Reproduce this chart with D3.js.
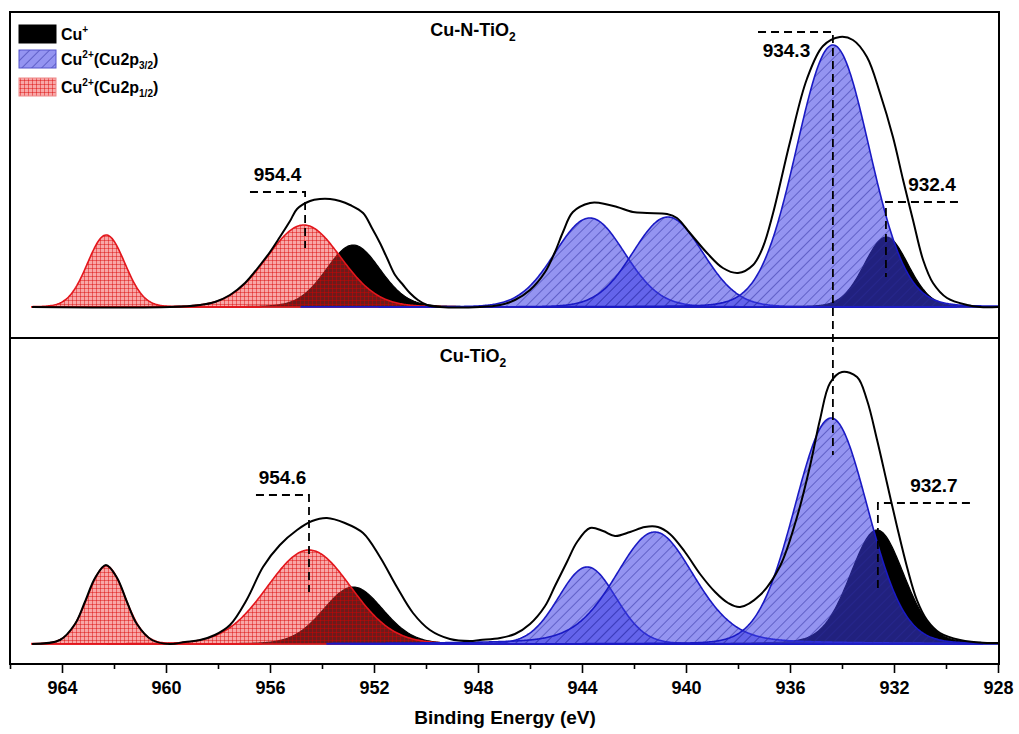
<!DOCTYPE html>
<html>
<head>
<meta charset="utf-8">
<script src="https://cdn.jsdelivr.net/npm/d3@7"></script>
<style>
  body { margin: 0; background: #fff; }
  svg { display: block; font-family: "Liberation Sans", Arial, sans-serif; font-weight: bold; }
</style>
</head>
<body>
<svg id="chart" width="1019" height="734"></svg>
<script>
'use strict';

/* global d3 */

// x axis (binding energy, eV)
var energyDomain = [966, 928];
var majorTicks = [964, 960, 956, 952, 948, 944, 940, 936, 932, 928];
var minorTicks = [966, 962, 958, 954, 950, 946, 942, 938, 934, 930];

// fitted components: [centre eV, height a.u., FWHM eV, lorentzian fraction]
var nCu1 = [[952.8, 62, 2.45, 0.1], [932.3, 70, 2.0, 0.1]];
var nCu2p32 = [[943.7, 89, 3.17, 0.05], [940.7, 90, 3.17, 0.05], [934.35, 262, 3.3, 0.05]];
var nCu2p12 = [[962.3, 72, 1.7, 0.05], [954.7, 82, 3.35, 0.05]];

var cCu1 = [[952.8, 57, 2.7, 0.1], [932.65, 114, 2.45, 0.15]];
var cCu2p32 = [[943.8, 77, 2.6, 0.05], [941.2, 112, 3.6, 0.25], [934.42, 226, 3.3, 0.05]];
var cCu2p12 = [[962.3, 78, 1.7, 0.05], [954.5, 94, 3.8, 0.05]];

// measured envelopes: [eV, a.u.]
var nEnvelope = [
  [965.15, 0], [959.85, 0], [958.69, 2], [958.12, 5], [957.54, 12], [956.96, 24],
  [956.38, 42], [956.0, 55], [955.62, 70], [955.23, 86], [954.96, 98], [954.46, 106],
  [954.08, 108], [953.69, 108], [953.31, 106], [952.92, 102], [952.42, 94], [952.08, 79],
  [951.77, 64], [951.5, 49], [951.19, 32], [950.88, 22], [950.62, 14], [950.31, 7],
  [949.96, 2], [949.46, 0], [947.92, 0], [947.15, 2], [946.58, 7], [946.0, 17],
  [945.42, 35], [945.04, 55], [944.73, 75], [944.35, 95], [943.69, 104], [943.31, 104],
  [942.65, 100], [942.04, 95], [941.5, 94], [940.73, 93], [940.35, 89], [939.85, 74],
  [939.19, 54], [938.58, 39], [938.0, 34], [937.42, 42], [937.04, 60], [936.65, 94],
  [936.0, 165], [935.35, 228], [934.73, 261], [934.08, 270], [933.58, 267], [933.04, 250],
  [932.54, 214], [932.04, 170], [931.65, 127], [931.27, 87], [930.88, 47], [930.5, 24],
  [929.96, 9], [929.19, 2], [928.69, 0], [928.0, 0]
];
var cEnvelope = [
  [965.15, 0], [964.08, 4], [963.5, 20], [963.12, 42], [962.73, 66], [962.31, 79],
  [961.88, 66], [961.5, 42], [961.12, 20], [960.54, 4], [959.85, 0], [959.27, 2],
  [958.69, 4], [958.12, 9], [957.54, 19], [956.88, 45], [956.27, 77], [955.62, 99],
  [954.96, 114], [954.38, 123], [953.81, 126], [953.12, 121], [952.42, 111], [951.77, 87],
  [951.12, 57], [950.5, 31], [949.85, 14], [949.08, 5], [948.31, 3], [947.92, 4],
  [947.15, 6], [946.58, 10], [946.0, 20], [945.42, 38], [945.04, 58], [944.58, 82],
  [944.19, 102], [943.69, 116], [943.19, 113], [942.73, 108], [942.15, 112], [941.58, 117],
  [941.08, 117], [940.62, 110], [940.04, 92], [939.46, 70], [938.88, 52], [938.38, 41],
  [937.92, 37], [937.15, 49], [936.38, 78], [935.73, 127], [935.23, 178], [934.85, 224],
  [934.46, 261], [934.0, 272], [933.42, 267], [933.04, 244], [932.65, 204], [932.27, 161],
  [931.88, 117], [931.5, 77], [931.12, 44], [930.73, 24], [930.23, 11], [929.46, 4],
  [928.42, 1], [928.0, 1]
];

// peak labels: [text, peak eV, arm end eV, corner a.u., drop end a.u.]
var nLabels = [['954.4', 954.65, 956.77, 115, 59], ['932.4', 932.31, 929.54, 105, 30]];
var cLabels = [['954.6', 954.5, 956.54, 149, 52], ['932.7', 932.62, 929.08, 141, 51]];
// the 934.3 marker runs through both panels: [text, eV, arm end eV, top a.u., bottom-panel a.u.]
var sharedLabel = ['934.3', 934.35, 937.23, 275, 189];

var svg = d3.select('#chart');
var frame = {left: 10, right: 999, top: 12, bottom: 664, split: 338};

var x = d3.scaleLinear().domain(energyDomain).range([10, 998]);

var panels = [
  {name: 'CuNTiO2', title: ['Cu-N-TiO', '2'], titleY: 36, y: d3.scaleLinear().domain([0, 295]).range([307, 12]),
    cu1: nCu1, p32: nCu2p32, p12: nCu2p12, envelope: nEnvelope, labels: nLabels, clipTop: frame.top, clipBottom: frame.split},
  {name: 'CuTiO2', title: ['Cu-TiO', '2'], titleY: 362, y: d3.scaleLinear().domain([0, 306]).range([644, 338]),
    cu1: cCu1, p32: cCu2p32, p12: cCu2p12, envelope: cEnvelope, labels: cLabels, clipTop: frame.split, clipBottom: frame.bottom}
];

var defs = svg.append('defs');

var blueHatch = defs.append('pattern')
  .attr('id', 'hatchBlue')
  .attr('patternUnits', 'userSpaceOnUse')
  .attr('width', 7).attr('height', 7)
  .attr('patternTransform', 'rotate(45)');
blueHatch.append('rect').attr('width', 7).attr('height', 7).attr('fill', 'rgba(60,60,230,0.55)');
blueHatch.append('line').attr('x1', 0).attr('y1', 0).attr('x2', 0).attr('y2', 7)
  .attr('stroke', '#2b2b9c').attr('stroke-width', 1);

var redGrid = defs.append('pattern')
  .attr('id', 'gridRed')
  .attr('patternUnits', 'userSpaceOnUse')
  .attr('width', 4).attr('height', 4);
redGrid.append('rect').attr('width', 4).attr('height', 4).attr('fill', 'rgba(240,60,60,0.45)');
redGrid.append('path').attr('d', 'M0,0.5H4M0.5,0V4')
  .attr('stroke', 'rgba(215,0,0,0.55)').attr('stroke-width', 0.8).attr('fill', 'none');

panels.forEach(function(p) {
  defs.append('clipPath').attr('id', 'clip-' + p.name)
    .append('rect')
    .attr('x', frame.left).attr('y', p.clipTop)
    .attr('width', frame.right - frame.left).attr('height', p.clipBottom - p.clipTop);
});

// pseudo-Voigt line shape of a fitted component
function peakValue(peak, e) {
  var t = (e - peak[0]) / peak[2];
  var gauss = Math.exp(-4 * Math.LN2 * t * t);
  var lorentz = 1 / (1 + 4 * t * t);
  return peak[1] * (peak[3] * lorentz + (1 - peak[3]) * gauss);
}

function peakPoints(peak) {
  var hi = Math.min(965.15, peak[0] + 3.5 * peak[2]);
  var lo = Math.max(928, peak[0] - 3.5 * peak[2]);
  return d3.range(hi, lo, -0.04).concat([lo]).map(function(e) {
    return [e, peakValue(peak, e)];
  });
}

function drawPanel(p) {
  var g = svg.append('g').attr('clip-path', 'url(#clip-' + p.name + ')');
  var area = d3.area()
    .x(function(d) { return x(d[0]); })
    .y0(p.y(0))
    .y1(function(d) { return p.y(d[1]); });

  g.selectAll('path.cu1').data(p.cu1).enter().append('path')
    .attr('class', 'cu1')
    .attr('d', function(d) { return area(peakPoints(d)); })
    .attr('fill', '#000').attr('stroke', '#000').attr('stroke-width', 1.2);

  g.selectAll('path.p12').data(p.p12).enter().append('path')
    .attr('class', 'p12')
    .attr('d', function(d) { return area(peakPoints(d)); })
    .attr('fill', 'url(#gridRed)').attr('stroke', '#e3161c').attr('stroke-width', 1.6);

  g.selectAll('path.p32').data(p.p32).enter().append('path')
    .attr('class', 'p32')
    .attr('d', function(d) { return area(peakPoints(d)); })
    .attr('fill', 'url(#hatchBlue)').attr('stroke', '#1a1ac4').attr('stroke-width', 1.6);

  var line = d3.line()
    .x(function(d) { return x(d[0]); })
    .y(function(d) { return p.y(d[1]); })
    .curve(d3.curveCatmullRom.alpha(0.5));

  g.append('path')
    .attr('d', line(p.envelope))
    .attr('fill', 'none').attr('stroke', '#000').attr('stroke-width', 2);

  // peak markers
  p.labels.forEach(function(l) {
    var xp = x(l[1]), xa = x(l[2]), yc = p.y(l[3]);
    svg.append('path')
      .attr('d', 'M' + xa + ',' + yc + 'H' + xp + 'V' + p.y(l[4]))
      .attr('fill', 'none').attr('stroke', '#000').attr('stroke-width', 1.8)
      .attr('stroke-dasharray', '8,5');
    var shift = l[2] < l[1] ? 10 : 0;
    svg.append('text')
      .attr('x', (xa + xp) / 2 + shift).attr('y', yc - 11)
      .attr('text-anchor', 'middle')
      .attr('font-size', 19)
      .text(l[0]);
  });

  var title = svg.append('text')
    .attr('x', 473).attr('y', p.titleY)
    .attr('text-anchor', 'middle')
    .attr('font-size', 18);
  title.append('tspan').text(p.title[0]);
  title.append('tspan').attr('font-size', 12).attr('dy', 5).text(p.title[1]);
}

panels.forEach(drawPanel);

// shared 934.3 marker
(function() {
  var top = panels[0].y, bottom = panels[1].y;
  var xp = x(sharedLabel[1]), xa = x(sharedLabel[2]), yc = top(sharedLabel[3]);
  svg.append('path')
    .attr('d', 'M' + xa + ',' + yc + 'H' + xp + 'V' + bottom(sharedLabel[4]))
    .attr('fill', 'none').attr('stroke', '#000').attr('stroke-width', 1.8)
    .attr('stroke-dasharray', '8,5');
  svg.append('text')
    .attr('x', (xa + xp) / 2 - 9).attr('y', yc + 25)
    .attr('text-anchor', 'middle')
    .attr('font-size', 19)
    .text(sharedLabel[0]);
})();

// frame
svg.append('rect')
  .attr('x', frame.left).attr('y', frame.top)
  .attr('width', frame.right - frame.left).attr('height', frame.bottom - frame.top)
  .attr('fill', 'none').attr('stroke', '#000').attr('stroke-width', 2);
svg.append('line')
  .attr('x1', frame.left).attr('x2', frame.right)
  .attr('y1', frame.split).attr('y2', frame.split)
  .attr('stroke', '#000').attr('stroke-width', 2);

// x axis
var majorAxis = d3.axisBottom(x).tickValues(majorTicks).tickSize(9).tickPadding(8).tickFormat(d3.format('d'));
var minorAxis = d3.axisBottom(x).tickValues(minorTicks).tickSize(5).tickFormat('');

var axisG = svg.append('g').attr('transform', 'translate(0,' + frame.bottom + ')').call(majorAxis);
svg.append('g').attr('transform', 'translate(0,' + frame.bottom + ')').call(minorAxis);
svg.selectAll('.domain').remove();
svg.selectAll('.tick line').attr('stroke', '#000').attr('stroke-width', 1.6);
axisG.selectAll('text')
  .attr('fill', '#000')
  .attr('font-size', 18)
  .attr('font-family', '"Liberation Sans", Arial, sans-serif')
  .attr('font-weight', 'bold');

svg.append('text')
  .attr('x', 505).attr('y', 724)
  .attr('text-anchor', 'middle')
  .attr('font-size', 19)
  .text('Binding Energy (eV)');

// legend
var legendItems = [
  {fill: '#000', stroke: '#000', label: 'Cu', sup: '+'},
  {fill: 'url(#hatchBlue)', stroke: '#5555cc', label: 'Cu', sup: '2+', tail: '(Cu2p', sub: '3/2'},
  {fill: 'url(#gridRed)', stroke: '#e88', label: 'Cu', sup: '2+', tail: '(Cu2p', sub: '1/2'}
];
var legendRows = [25, 50, 78];

var legend = svg.append('g');
legendItems.forEach(function(item, i) {
  var yTop = legendRows[i];
  legend.append('rect')
    .attr('x', 19).attr('y', yTop)
    .attr('width', 37).attr('height', 18)
    .attr('fill', item.fill).attr('stroke', item.stroke).attr('stroke-width', 1);
  var t = legend.append('text')
    .attr('x', 61).attr('y', yTop + 15)
    .attr('font-size', 16);
  t.append('tspan').text(item.label);
  t.append('tspan').attr('font-size', 10).attr('dy', -7).text(item.sup);
  if (item.tail) {
    t.append('tspan').attr('dy', 7).text(item.tail);
    t.append('tspan').attr('font-size', 10).attr('dy', 4).text(item.sub);
    t.append('tspan').attr('dy', -4).text(')');
  }
});
</script>
</body>
</html>
